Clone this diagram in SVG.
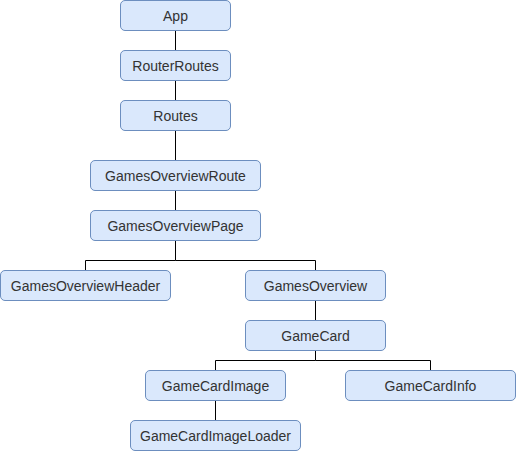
<svg xmlns="http://www.w3.org/2000/svg" width="516" height="451" viewBox="0 0 516 451">
<style>
.n rect{fill:#dae8fc;stroke:#6c8ebf;stroke-width:1}
.n text{font-family:"Liberation Sans",Arial,sans-serif;font-size:14px;fill:#333;text-anchor:middle;dominant-baseline:central}
.e path{fill:none;stroke:#000;stroke-width:1}
</style>
<rect width="516" height="451" fill="#fff"/>
<g class="e" id="connectors">
<path d="M175.5 30.5V50.5"/>
<path d="M175.5 80.5V100.5"/>
<path d="M175.5 130.5V160.5"/>
<path d="M175.5 190.5V210.5"/>
<path d="M175.5 240.5V260.5H85.5V270.5"/>
<path d="M175.5 260.5H315.5V270.5"/>
<path d="M315.5 300.5V320.5"/>
<path d="M315.5 350.5V360.5H215.5V370.5"/>
<path d="M315.5 360.5H430.5V370.5"/>
<path d="M215.5 400.5V420.5"/>
</g>
<g class="n" id="App"><rect x="120.5" y="0.5" width="110" height="30" rx="4.5"/><text x="175.5" y="16">App</text></g>
<g class="n" id="RouterRoutes"><rect x="120.5" y="50.5" width="110" height="30" rx="4.5"/><text x="175.5" y="66">RouterRoutes</text></g>
<g class="n" id="Routes"><rect x="120.5" y="100.5" width="110" height="30" rx="4.5"/><text x="175.5" y="116">Routes</text></g>
<g class="n" id="GamesOverviewRoute"><rect x="90.5" y="160.5" width="170" height="30" rx="4.5"/><text x="175.5" y="176">GamesOverviewRoute</text></g>
<g class="n" id="GamesOverviewPage"><rect x="90.5" y="210.5" width="170" height="30" rx="4.5"/><text x="175.5" y="226">GamesOverviewPage</text></g>
<g class="n" id="GamesOverviewHeader"><rect x="0.5" y="270.5" width="170" height="30" rx="4.5"/><text x="85.5" y="286">GamesOverviewHeader</text></g>
<g class="n" id="GamesOverview"><rect x="245.5" y="270.5" width="140" height="30" rx="4.5"/><text x="315.5" y="286">GamesOverview</text></g>
<g class="n" id="GameCard"><rect x="245.5" y="320.5" width="140" height="30" rx="4.5"/><text x="315.5" y="336">GameCard</text></g>
<g class="n" id="GameCardImage"><rect x="145.5" y="370.5" width="140" height="30" rx="4.5"/><text x="215.5" y="386">GameCardImage</text></g>
<g class="n" id="GameCardInfo"><rect x="345.5" y="370.5" width="170" height="30" rx="4.5"/><text x="430.5" y="386">GameCardInfo</text></g>
<g class="n" id="GameCardImageLoader"><rect x="130.5" y="420.5" width="170" height="30" rx="4.5"/><text x="215.5" y="436">GameCardImageLoader</text></g>
</svg>
